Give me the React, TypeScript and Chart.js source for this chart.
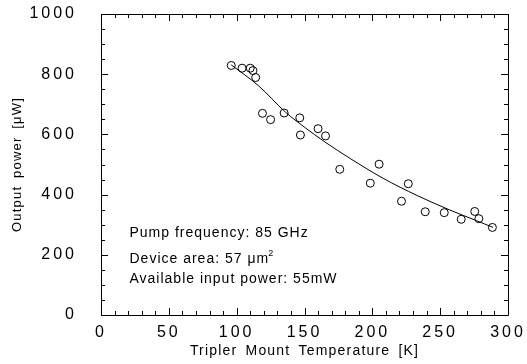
import React, { useEffect, useRef } from "react";
import { Chart, registerables } from "chart.js";

Chart.register(...registerables);

// Measured points: tripler mount temperature [K] vs output power [µW]
const tempK = [96, 104, 110, 112, 114, 119, 125, 135, 146.5, 147, 160, 165.5, 176, 198.5, 205, 221.5, 226.5, 239, 253, 265.5, 275.5, 278.5, 288.5];
const powerUW = [829, 820, 820, 812, 789, 670, 649, 671, 655, 598, 619, 595, 484, 438, 501, 378, 436, 343, 340, 318, 344, 320, 291];

// Fitted trend curve
const fitTempK = [96, 116, 136, 150, 165, 184, 208, 233, 257, 277, 289];
const fitPowerUW = [831, 762, 674, 624, 575, 519, 454, 397, 349, 313, 291];

const xTicks = [0, 50, 100, 150, 200, 250, 300];
const yTicks = [0, 200, 400, 600, 800, 1000];

const annotations = [
  { text: "Pump frequency: 85 GHz", x: 21, y: 259 },
  { text: "Device area: 57 \u03bcm", sup: "2", x: 21, y: 172 },
  { text: "Available input power: 55mW", x: 21, y: 107 },
];

const FONT = "'Liberation Sans', Arial, Helvetica, sans-serif";

const framePlugin = {
  id: "frameTicks",
  beforeDraw(chart: any) {
    const ctx = chart.ctx;
    Object.values(chart.scales).forEach((s: any) => {
      if (s.__patched) return;
      s.__patched = true;
      const dl = s.drawLabels.bind(s);
      const dt = s.drawTitle.bind(s);
      s.drawLabels = (a: any) => {
        ctx.save();
        ctx.letterSpacing = "3px";
        dl(a);
        ctx.restore();
      };
      s.drawTitle = (a: any) => {
        ctx.save();
        ctx.letterSpacing = "1.2px";
        (ctx as any).wordSpacing = "3px";
        dt(a);
        ctx.restore();
      };
    });
  },
  afterDatasetsDraw(chart: any) {
    const { ctx, chartArea } = chart;
    const xs = chart.scales.x;
    const ys = chart.scales.y;
    const { left, right, top, bottom } = chartArea;
    ctx.save();
    ctx.strokeStyle = "#000";
    ctx.lineWidth = 1;
    ctx.beginPath();
    ctx.rect(Math.round(left) + 0.5, Math.round(top) + 0.5, Math.round(right - left), Math.round(bottom - top));
    ctx.stroke();
    ctx.beginPath();
    for (let v = 0; v <= 300; v += 10) {
      const px = Math.round(xs.getPixelForValue(v)) + 0.5;
      const len = v % 50 === 0 ? 7 : 4;
      ctx.moveTo(px, bottom);
      ctx.lineTo(px, bottom - len);
      ctx.moveTo(px, top);
      ctx.lineTo(px, top + len);
    }
    for (let v = 0; v <= 1000; v += 50) {
      const py = Math.round(ys.getPixelForValue(v)) + 0.5;
      const len = v % 200 === 0 ? 7 : 4;
      ctx.moveTo(left, py);
      ctx.lineTo(left + len, py);
      ctx.moveTo(right, py);
      ctx.lineTo(right - len, py);
    }
    ctx.stroke();

    ctx.fillStyle = "#000";
    ctx.textBaseline = "alphabetic";
    ctx.textAlign = "left";
    annotations.forEach((a) => {
      const px = xs.getPixelForValue(a.x);
      const py = ys.getPixelForValue(a.y);
      ctx.font = `14px ${FONT}`;
      ctx.letterSpacing = "1px";
      ctx.fillText(a.text, px, py);
      if (a.sup) {
        const w = ctx.measureText(a.text).width;
        ctx.font = `9px ${FONT}`;
        ctx.fillText(a.sup, px + w - 1, py - 7);
      }
    });
    ctx.restore();
  },
};

export default function App() {
  const ref = useRef<HTMLCanvasElement | null>(null);
  useEffect(() => {
    if (!ref.current) return;
    const chart = new Chart(ref.current, {
      type: "scatter",
      data: {
        datasets: [
          {
            type: "line",
            data: fitTempK.map((t, i) => ({ x: t, y: fitPowerUW[i] })),
            borderColor: "#000",
            borderWidth: 1,
            pointRadius: 0,
            fill: false,
            tension: 0.4,
            cubicInterpolationMode: "monotone",
          } as any,
          {
            data: tempK.map((t, i) => ({ x: t, y: powerUW[i] })),
            borderColor: "#000",
            backgroundColor: "rgba(255,255,255,0)",
            borderWidth: 1,
            pointRadius: 4,
            pointStyle: "circle",
          },
        ],
      },
      options: {
        animation: false,
        responsive: true,
        maintainAspectRatio: false,
        layout: { padding: { top: 14, right: 19, left: 0, bottom: 0 } },
        plugins: { legend: { display: false }, tooltip: { enabled: false } },
        scales: {
          x: {
            type: "linear",
            min: 0,
            max: 300,
            grid: { display: false },
            border: { display: false },
            afterBuildTicks: (s: any) => {
              s.ticks = xTicks.map((v) => ({ value: v }));
            },
            afterFit: (s: any) => {
              s.height = 49;
              s.paddingLeft = 0;
              s.paddingRight = 0;
            },
            ticks: {
              color: "#000",
              font: { family: FONT, size: 16 },
              padding: 0,
              maxRotation: 0,
              callback: (v: any) => String(v),
            },
            title: {
              display: true,
              text: "Tripler Mount Temperature [K]",
              color: "#000",
              font: { family: FONT, size: 14 },
              padding: { top: 0, bottom: 4 },
            },
          },
          y: {
            type: "linear",
            min: 0,
            max: 1000,
            grid: { display: false },
            border: { display: false },
            afterBuildTicks: (s: any) => {
              s.ticks = yTicks.map((v) => ({ value: v }));
            },
            afterFit: (s: any) => {
              s.width = 101;
              s.paddingTop = 0;
              s.paddingBottom = 0;
            },
            ticks: {
              color: "#000",
              font: { family: FONT, size: 16 },
              padding: 16,
              callback: (v: any) => String(v),
            },
            title: {
              display: true,
              text: "Output power [\u03bcW]",
              color: "#000",
              font: { family: FONT, size: 13 },
              padding: { top: 10, bottom: 0 },
            },
          },
        },
      },
      plugins: [framePlugin],
    });
    return () => chart.destroy();
  }, []);
  return (
    <div style={{ position: "fixed", left: 0, top: 0, width: 527, height: 364, background: "#fff" }}>
      <canvas ref={ref} />
    </div>
  );
}
